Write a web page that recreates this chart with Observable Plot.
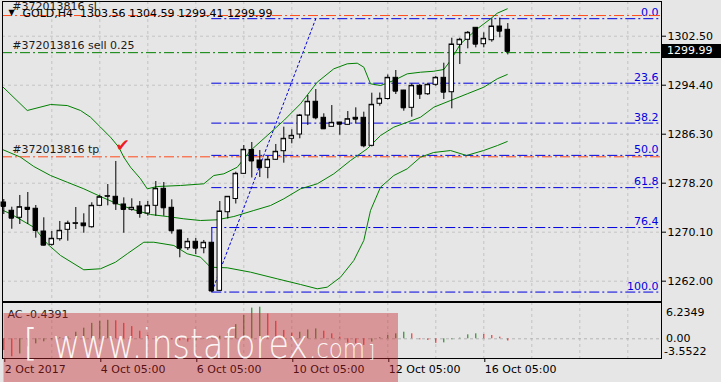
<!DOCTYPE html>
<html><head><meta charset="utf-8">
<script src="https://cdn.jsdelivr.net/npm/d3@7"></script>
<script src="https://cdn.jsdelivr.net/npm/@observablehq/plot@0.6"></script>
<style>
html,body{margin:0;padding:0;background:#e6e6e6;}
#wrap{position:relative;width:721px;height:382px;overflow:hidden;background:#e6e6e6;}
#wrap svg{position:absolute;left:0;}
#pricebox{position:absolute;left:662px;width:59px;height:14px;background:#000;color:#fff;font:11px "DejaVu Sans",sans-serif;line-height:14px;padding-left:5px;box-sizing:border-box;}
</style></head><body><div id="wrap"></div>
<script>
// ---------- data ----------
const opens  = [1275.01,1273.64,1272.48,1274.13,1273.97,1270.21,1268.01,1268.94,1270.49,1271.50,1271.54,1270.92,1274.46,1276.00,1275.95,1274.68,1273.80,1274.35,1273.19,1274.46,1277.27,1274.13,1270.38,1267.45,1268.51,1267.45,1268.35,1260.40,1273.40,1275.59,1279.75,1283.69,1281.95,1280.74,1282.07,1283.49,1285.54,1286.25,1289.39,1291.66,1289.01,1287.52,1288.23,1287.85,1289.01,1289.01,1284.38,1291.33,1292.12,1295.62,1293.52,1290.66,1294.30,1292.91,1294.47,1295.62,1293.24,1301.08,1301.91,1303.89,1301.18,1301.84,1304.10,1303.56];
const highs  = [1275.50,1274.23,1276.17,1276.66,1274.51,1272.48,1270.21,1271.87,1271.92,1274.18,1273.14,1274.96,1276.21,1277.98,1281.79,1275.78,1275.62,1275.17,1275.17,1278.48,1278.31,1275.45,1270.45,1269.06,1269.06,1268.73,1268.40,1275.17,1276.00,1280.02,1284.43,1284.93,1283.60,1282.61,1284.60,1287.46,1287.03,1289.56,1292.70,1293.69,1289.67,1291.04,1288.25,1290.05,1290.66,1289.94,1293.08,1293.11,1296.09,1296.83,1293.55,1294.63,1294.52,1294.63,1295.84,1298.04,1302.17,1302.17,1303.28,1303.92,1303.06,1305.38,1305.50,1304.59];
const lows   = [1273.02,1270.59,1271.37,1271.37,1269.11,1267.82,1267.78,1268.61,1268.61,1270.54,1269.93,1270.76,1274.35,1274.46,1273.69,1269.93,1273.57,1272.41,1272.74,1272.74,1272.74,1269.77,1265.87,1267.07,1266.41,1266.53,1260.20,1260.30,1272.28,1274.76,1279.65,1279.06,1279.14,1278.93,1281.95,1281.51,1284.71,1285.54,1287.74,1288.68,1287.10,1287.45,1286.13,1287.74,1288.02,1284.05,1284.20,1290.93,1291.95,1292.86,1290.10,1289.11,1292.04,1292.70,1294.23,1292.04,1290.50,1297.82,1300.42,1300.58,1300.58,1301.51,1302.24,1299.41];
const closes = [1274.35,1272.41,1274.23,1273.85,1270.38,1267.95,1269.01,1270.33,1271.54,1271.58,1271.16,1274.46,1275.88,1276.05,1274.79,1273.85,1274.13,1273.19,1274.46,1277.27,1274.13,1270.33,1267.45,1268.51,1267.45,1268.35,1260.38,1273.52,1275.95,1279.75,1283.72,1281.87,1280.74,1282.07,1283.39,1285.54,1286.03,1289.39,1291.66,1289.01,1287.19,1288.18,1287.95,1288.78,1288.78,1284.38,1291.16,1292.15,1295.62,1293.41,1290.66,1294.30,1292.91,1294.47,1295.62,1293.24,1301.13,1301.91,1303.06,1301.18,1302.07,1304.10,1303.33,1299.99];

// Bollinger bands (bar position, price)
const upperIdx = [-0.08,2.93,5.84,7.93,9.59,10.84,12.09,13.34,14.38,15.0,15.84,17.09,17.93,19.18,22.09,25.0,26.25,27.5,29.18,30.84,32.93,35.0,37.09,39.18,41.25,42.93,44.18,45.0,45.84,47.09,48.75,50.43,52.09,53.75,55.0,55.84,57.09,59.18,60.84,61.68,62.93];
const upperVal = [1294.07,1290.22,1291.21,1291.04,1290.22,1289.11,1287.46,1285.80,1284.15,1282.50,1280.84,1278.93,1277.27,1277.65,1277.82,1278.10,1279.47,1279.75,1280.84,1283.60,1286.08,1288.56,1291.33,1294.90,1297.11,1297.94,1298.04,1297.38,1294.63,1294.35,1295.18,1296.28,1296.55,1296.71,1297.00,1298.48,1301.24,1303.72,1305.38,1306.30,1307.03];
const midIdx = [-0.08,2.09,3.75,5.84,7.93,10.0,12.09,14.18,16.25,18.34,20.43,22.5,24.59,26.68,28.75,31.25,33.34,35.0,37.09,39.18,41.25,43.34,45.43,47.09,48.75,50.43,52.09,53.75,55.84,57.93,60.0,61.68,62.93];
const midVal = [1283.72,1282.50,1280.96,1279.47,1278.36,1277.27,1276.00,1274.79,1273.80,1273.02,1272.69,1272.31,1272.03,1272.15,1272.69,1273.69,1274.51,1275.62,1277.27,1278.10,1279.75,1281.95,1283.89,1286.08,1287.46,1288.28,1289.11,1290.76,1291.87,1292.98,1294.07,1295.46,1296.17];
const lowIdx = [-0.08,0.84,3.75,5.43,7.09,10.0,12.09,13.96,15.43,17.5,18.75,21.25,22.93,24.59,25.84,27.93,30.84,34.18,37.09,39.18,40.43,42.09,43.75,45.0,45.84,47.09,48.75,50.43,52.09,53.71,55.84,57.84,59.96,61.71,62.93];
const lowVal = [1273.69,1273.14,1270.92,1268.18,1266.25,1263.88,1264.05,1265.14,1266.53,1268.44,1268.44,1267.90,1266.53,1265.97,1264.31,1264.21,1263.49,1262.39,1261.45,1260.74,1261.01,1262.66,1265.42,1268.73,1273.69,1277.54,1279.47,1280.58,1282.50,1283.27,1283.60,1282.78,1283.60,1284.43,1285.09];

// Accelerator oscillator
const acVals = [-2.30,-3.55,-3.00,-1.60,-1.00,-0.60,-0.20,0.20,0.40,1.30,2.10,3.05,3.45,3.65,3.55,3.05,2.40,1.50,0.65,0.30,0.10,-0.20,-0.40,-0.65,-0.40,-0.10,0.20,0.50,1.00,2.80,4.60,6.05,6.2349,4.90,3.45,1.65,1.10,1.30,1.75,1.95,1.50,0.98,0.33,-0.85,-0.98,-1.30,-0.65,0.20,0.65,0.98,1.30,0.98,-0.20,-0.33,-0.90,-0.80,-0.20,0.13,0.78,0.98,0.85,0.65,0.33,-0.4391];
const acMax = 6.2349, acMin = -3.5522;

// Fibonacci
const fibLevels = [0, 23.6, 38.2, 50, 61.8, 76.4, 100];
const fibHigh = 1305.40, fibLow = 1260.20, fibStartBar = 26, fibEndBar = 39;

// Orders
const orderLabels = ["#372013816 sl", "#372013816 sell 0.25", "#372013816 tp"];
const orderPrices = [1305.92, 1299.78, 1282.56];
const orderKinds  = ["sl", "sell", "tp"];
const checkBar = [14.85], checkPrice = [1284.43];

// Axes
const priceTicks = [1302.50, 1294.40, 1286.30, 1278.20, 1270.10, 1262.00];
const gridBars = [6,12,18,24,30,36,42,48,54,60,66,72,78];
const timeTickBars = [0, 12, 24, 36, 48, 60];
const timeTickLabels = ["2 Oct 2017", "4 Oct 05:00", "6 Oct 05:00", "10 Oct 05:00", "12 Oct 05:00", "16 Oct 05:00"];
const symbol = "GOLD,H4";

// ---------- build ----------
const FONT = "DejaVu Sans";
const xDom = [-0.1625, 82.2125];
const yDom = [1258.64, 1308.24];
const gridColor = "#c4c4c4";
const fibBlue = "#0000e0";
const ordRed = "#ff4a1a";
const bbGreen = "#008000";
const n = opens.length;
const candles = d3.range(n).map(i => ({i, o: opens[i], h: highs[i], l: lows[i], c: closes[i]}));
const up = candles.filter(d => d.c >= d.o), down = candles.filter(d => d.c < d.o);
const pts = (xs, ys) => xs.map((x, k) => ({x, y: ys[k]}));
const fibRows = fibLevels.map(l => ({l, price: fibHigh - (fibHigh - fibLow) * l / 100, label: l.toFixed(1)}));
const orders = orderLabels.map((label, k) => ({label, price: orderPrices[k], kind: orderKinds[k]}));
const last = candles[n - 1];
const header = `${symbol}  ${last.o.toFixed(2)} ${last.h.toFixed(2)} ${last.l.toFixed(2)} ${last.c.toFixed(2)}`;
const bw = 0.28;

const main = Plot.plot({
  width: 721, height: 301,
  marginLeft: 2, marginRight: 60, marginTop: 1, marginBottom: 0,
  x: {domain: xDom, axis: null},
  y: {domain: yDom},
  style: {background: "transparent", fontFamily: FONT, fontSize: "11px", color: "black", overflow: "visible"},
  marks: [
    Plot.ruleY(priceTicks, {stroke: gridColor, strokeDasharray: "3,3"}),
    Plot.ruleX(gridBars, {stroke: gridColor, strokeDasharray: "3,3"}),
    // fib
    Plot.ruleX([fibStartBar], {y1: () => fibRows[5].price, y2: () => fibLow, stroke: fibBlue}),
    Plot.ruleY(fibRows, {y: "price", x1: () => fibStartBar, x2: () => xDom[1], stroke: fibBlue, strokeDasharray: "10,3,2,3"}),
    Plot.link([0], {x1: () => fibStartBar, y1: () => fibLow, x2: () => fibEndBar, y2: () => fibHigh, stroke: fibBlue, strokeDasharray: "3,2"}),
    Plot.text(fibRows, {x: () => xDom[1], y: "price", text: "label", textAnchor: "end", dx: -3, dy: -6, lineAnchor: "middle", fill: fibBlue}),
    // order lines
    Plot.ruleY(orders, {y: "price", stroke: d => d.kind === "sell" ? bbGreen : ordRed, strokeDasharray: "10,3,2,3"}),
    // bollinger
    Plot.line(pts(upperIdx, upperVal), {x: "x", y: "y", stroke: bbGreen, strokeWidth: 1}),
    Plot.line(pts(midIdx, midVal), {x: "x", y: "y", stroke: bbGreen, strokeWidth: 1}),
    Plot.line(pts(lowIdx, lowVal), {x: "x", y: "y", stroke: bbGreen, strokeWidth: 1}),
    // candles
    Plot.ruleX(candles, {x: "i", y1: "l", y2: "h", stroke: "black"}),
    Plot.rect(up, {x1: d => d.i - bw, x2: d => d.i + bw, y1: "o", y2: "c", fill: "white", stroke: "black"}),
    Plot.rect(down, {x1: d => d.i - bw, x2: d => d.i + bw, y1: "o", y2: "c", fill: "black", stroke: "black"}),
    Plot.ruleY(candles, {y: "c", x1: d => d.i - bw, x2: d => d.i + bw, stroke: "black"}),
    // tp hit mark
    Plot.text(checkBar.map((b, k) => ({b, p: checkPrice[k]})), {x: "b", y: "p", text: () => "\u2714", fill: "#ee1c24", fontSize: 17}),
    // order labels
    Plot.text(orders.filter(d => d.kind !== "sl"), {x: () => xDom[0], y: "price", text: "label", textAnchor: "start", dx: 9.7, dy: -7, lineAnchor: "middle", fill: "#1a1a1a"}),
    Plot.text(orders.filter(d => d.kind === "sl"), {x: () => xDom[0], y: "price", text: "label", textAnchor: "start", dx: 9.7, dy: -9, lineAnchor: "middle", fill: "#1a1a1a"}),
    // header
    Plot.text([header], {frameAnchor: "top-left", dx: 20, dy: 12, lineAnchor: "middle", fill: "black"}),
    Plot.text(["\u25BC"], {frameAnchor: "top-left", dx: 6, dy: 11, lineAnchor: "middle", fill: "black", fontSize: 8}),
    Plot.axisY(priceTicks, {anchor: "right", tickSize: 4, tickPadding: 2, tickFormat: d => d.toFixed(2), label: null, stroke: "black"}),
    Plot.frame({stroke: "black"})
  ]
});

const acRows = acVals.map((v, i) => ({i, v, upd: i > 0 && v > acVals[i - 1]}));
const ac = Plot.plot({
  width: 721, height: 81,
  marginLeft: 2, marginRight: 60, marginTop: 1, marginBottom: 24,
  x: {domain: xDom},
  y: {domain: [-3.887, 7.163], axis: null},
  style: {background: "transparent", fontFamily: FONT, fontSize: "11px", color: "black", overflow: "visible"},
  marks: [
    Plot.ruleX(gridBars, {stroke: gridColor, strokeDasharray: "3,3"}),
    Plot.ruleY([0], {stroke: "#b4b4b4", strokeDasharray: "3,3"}),
    Plot.ruleX(acRows.filter(d => d.upd), {x: "i", y1: () => 0, y2: "v", stroke: "#0a7d0a"}),
    Plot.ruleX(acRows.filter(d => !d.upd), {x: "i", y1: () => 0, y2: "v", stroke: "#ff1010"}),
    Plot.text([`AC ${acVals[n - 1].toFixed(4)}`], {frameAnchor: "top-left", dx: 5, dy: 11.5, lineAnchor: "middle", fill: "#1a1a1a"}),
    Plot.text([acMax], {x: () => xDom[1], y: d => d, text: d => d.toFixed(4), textAnchor: "start", dx: 4.5, dy: 5.6, lineAnchor: "middle", fill: "black"}),
    Plot.text([0], {x: () => xDom[1], y: d => d, text: d => d.toFixed(2), textAnchor: "start", dx: 4.5, dy: 0, lineAnchor: "middle", fill: "black"}),
    Plot.text([acMin], {x: () => xDom[1], y: d => d, text: d => d.toFixed(4), textAnchor: "start", dx: 2.5, dy: -5.6, lineAnchor: "middle", fill: "black"}),
    Plot.axisX(timeTickBars, {anchor: "bottom", tickSize: 4, tickPadding: 3, tickFormat: d => timeTickLabels[timeTickBars.indexOf(d)], textAnchor: "start", dx: 1, label: null, stroke: "black"}),
    Plot.frame({stroke: "black"})
  ]
});

const wrap = document.getElementById("wrap");
main.style.top = "0px";
ac.style.top = "301px";
wrap.appendChild(main);
wrap.appendChild(ac);

// current price box on the price axis, positioned through the chart's y scale
let yPix;
try { yPix = main.scale("y").apply(last.c); } catch (e) { yPix = NaN; }
if (!isFinite(yPix)) yPix = d3.scaleLinear().domain(yDom).range([301, 1])(last.c);
const box = document.createElement("div");
box.id = "pricebox";
box.style.top = (yPix - 7) + "px";
box.textContent = last.c.toFixed(2);
wrap.appendChild(box);

// watermark overlay
const wm = d3.select(wrap).append("svg").attr("width", 721).attr("height", 382).style("top", "0px").style("pointer-events", "none");
wm.append("rect").attr("x", 3.5).attr("y", 313).attr("width", 394.5).attr("height", 69).attr("fill", "rgb(200,40,45)").attr("fill-opacity", 0.42);
const wt = wm.append("g").attr("fill", "white").attr("fill-opacity", 0.93).attr("font-family", "'DejaVu Sans', sans-serif").attr("font-weight", 200);
wt.append("text").attr("x", 23).attr("y", 355).attr("font-size", 38).text("[");
wt.append("text").attr("x", 53).attr("y", 358).attr("font-size", 40).attr("textLength", 255).attr("lengthAdjust", "spacingAndGlyphs").text("www.instaforex");
wt.append("text").attr("x", 309).attr("y", 358).attr("font-size", 26).attr("textLength", 56).attr("lengthAdjust", "spacingAndGlyphs").text(".com");
wt.append("text").attr("x", 368).attr("y", 358).attr("font-size", 18).text("]");
</script></body></html>
